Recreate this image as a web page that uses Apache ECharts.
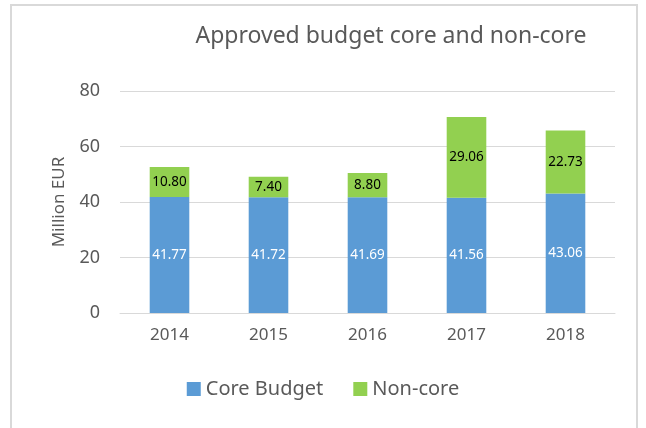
<!DOCTYPE html>
<html>
<head>
<meta charset="utf-8">
<script src="https://cdn.jsdelivr.net/npm/echarts@6/dist/echarts.min.js"></script>
<style>
  html, body { margin: 0; padding: 0; background: #fff; }
  #frame { position: absolute; left: 10px; top: 4px; width: 628px; height: 440px; border: 2px solid #d9d9d9; box-sizing: border-box; }
  #chart { position: absolute; left: 0; top: 0; width: 646px; height: 428px; }
</style>
</head>
<body>
<div id="frame"></div>
<div id="chart"></div>
<script>
// data
var years = ['2014', '2015', '2016', '2017', '2018'];
var coreBudget = [41.77, 41.72, 41.69, 41.56, 43.06];
var nonCore = [10.80, 7.40, 8.80, 29.06, 22.73];

var font = 'Noto Sans';
var grey = '#595959';

var chart = echarts.init(document.getElementById('chart'));

function twoDec(p) { return p.value.toFixed(2); }

chart.setOption({
  animation: false,
  textStyle: { fontFamily: font },
  title: {
    text: 'Approved budget core and non-core',
    left: 386,
    textAlign: 'center',
    top: 20,
    textStyle: { fontFamily: font, fontSize: 23, fontWeight: 'normal', color: grey }
  },
  legend: {
    bottom: 24,
    left: 'center',
    itemWidth: 14,
    itemHeight: 14,
    itemGap: 30,
    icon: 'rect',
    textStyle: { fontFamily: font, fontSize: 20, color: grey },
    data: ['Core Budget', 'Non-core']
  },
  grid: { left: 120, right: 31, top: 91, bottom: 115 },
  xAxis: {
    type: 'category',
    data: years,
    axisLine: { lineStyle: { color: '#d9d9d9', width: 1 } },
    axisTick: { show: false },
    axisLabel: { color: grey, fontSize: 17, margin: 14, fontFamily: font }
  },
  yAxis: {
    type: 'value',
    min: 0,
    max: 80,
    interval: 20,
    name: 'Million EUR',
    nameLocation: 'middle',
    nameGap: 52,
    nameTextStyle: { color: grey, fontSize: 17, fontFamily: font },
    axisLine: { show: false },
    axisTick: { show: false },
    axisLabel: { color: grey, fontSize: 18, margin: 20, fontFamily: font },
    splitLine: { lineStyle: { color: '#d9d9d9', width: 1 } }
  },
  series: [
    {
      name: 'Core Budget',
      type: 'bar',
      stack: 'total',
      barWidth: '40%',
      data: coreBudget,
      itemStyle: { color: '#5b9bd5' },
      label: { show: true, position: 'inside', color: '#fff', fontSize: 13.5, fontFamily: font, formatter: twoDec }
    },
    {
      name: 'Non-core',
      type: 'bar',
      stack: 'total',
      barWidth: '40%',
      data: nonCore,
      itemStyle: { color: '#92d050' },
      label: { show: true, position: 'inside', color: '#000', fontSize: 13.5, fontFamily: font, formatter: twoDec }
    }
  ]
});
</script>
</body>
</html>
